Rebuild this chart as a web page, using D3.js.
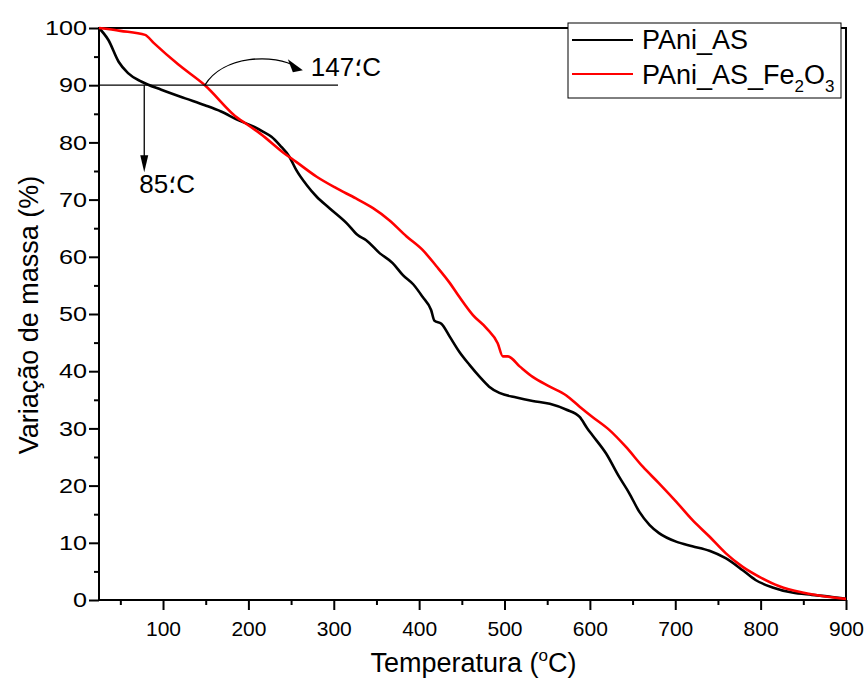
<!DOCTYPE html>
<html>
<head>
<meta charset="utf-8">
<script src="https://cdn.jsdelivr.net/npm/d3@7"></script>
<style>
  html, body { margin: 0; padding: 0; background: #fff; }
  svg text { font-family: "Liberation Sans", Arial, sans-serif; fill: #000; }
</style>
</head>
<body>
<svg id="chart" width="866" height="691"></svg>
<script>
// ---- data ----
const xTicks = [100, 200, 300, 400, 500, 600, 700, 800, 900];
const yTicks = [0, 10, 20, 30, 40, 50, 60, 70, 80, 90, 100];
const seriesNames = ["PAni_AS", "PAni_AS_Fe2O3"];

const tempBlack = [25, 36, 48, 59, 75, 98, 126, 149, 168, 188, 207, 217, 227, 237, 248, 256, 268, 280, 295, 315, 328, 338, 354, 369, 381, 393, 404, 414, 418, 426, 436, 447, 459, 471, 482, 494, 514, 533, 553, 572, 588, 597, 603, 619, 634, 646, 658, 670, 681, 701, 720, 740, 759, 779, 794, 814, 837, 860, 880, 900];
const massBlack = [100, 97.9, 94.1, 92.1, 90.6, 89.2, 87.7, 86.5, 85.4, 83.9, 82.7, 81.9, 81.0, 79.5, 77.5, 75.2, 72.6, 70.5, 68.5, 65.9, 63.8, 62.9, 60.6, 58.9, 56.8, 55.2, 53.0, 50.7, 48.8, 48.3, 46.0, 43.4, 41.1, 39.0, 37.3, 36.2, 35.4, 34.8, 34.3, 33.3, 32.0, 30.0, 28.8, 25.6, 21.6, 18.7, 15.4, 13.1, 11.7, 10.2, 9.4, 8.6, 7.3, 5.2, 3.5, 2.2, 1.3, 0.9, 0.6, 0.2];

const tempRed = [25, 50, 79, 89, 118, 149, 188, 194, 215, 241, 256, 280, 303, 326, 346, 365, 385, 404, 420, 436, 447, 463, 479, 492, 498, 504, 518, 533, 553, 572, 588, 603, 623, 642, 662, 681, 701, 720, 740, 759, 779, 798, 822, 849, 876, 900];
const massRed = [100, 99.5, 98.8, 97.4, 93.6, 90.0, 84.2, 83.6, 81.4, 78.2, 76.6, 74.0, 72.0, 70.2, 68.5, 66.4, 63.6, 61.2, 58.4, 55.4, 53.0, 49.8, 47.5, 44.9, 42.6, 42.6, 40.8, 39.0, 37.3, 35.8, 33.8, 32.0, 29.7, 26.8, 23.3, 20.4, 17.2, 14.0, 11.1, 8.2, 5.8, 4.1, 2.4, 1.3, 0.6, 0.2];

const refLevel = 90;          // horizontal reference line (%)
const refLineEnd = 305;       // °C where the reference line stops
const annoBlackTemp = 78;     // vertical arrow position (°C)
const annoBlackTip = 74.8;    // vertical arrow tip (%)
const annoRedTemp = 149;      // curved arrow start (°C)
const annoLabels = ["147؛C", "85؛C"];

// ---- layout ----
const svg = d3.select("#chart");
const L = 99, R = 846, T = 28, B = 600;
const x = d3.scaleLinear().domain([25, 900]).range([L, R]);
const y = d3.scaleLinear().domain([0, 100]).range([B, T]);

const FONT = "Liberation Sans, Arial, sans-serif";

// axes
const xAxis = d3.axisBottom(x).tickValues(xTicks).tickSize(10).tickPadding(11).tickFormat(d3.format("d"));
const xMinor = d3.axisBottom(x).tickValues(d3.range(50, 900, 100)).tickSize(5).tickFormat("");
const yAxis = d3.axisLeft(y).tickValues(yTicks).tickSize(10).tickPadding(4).tickFormat(d3.format("d"));
const yMinor = d3.axisLeft(y).tickValues(d3.range(5, 100, 10)).tickSize(5).tickFormat("");

function styleAxis(g) {
  g.select(".domain").remove();
  g.selectAll(".tick line").attr("stroke", "#000").attr("stroke-width", 2);
  g.selectAll(".tick text").attr("font-family", FONT).attr("font-size", 21).attr("fill", "#000");
}
svg.append("g").attr("transform", `translate(0,${B})`).call(xAxis).call(styleAxis);
svg.append("g").attr("transform", `translate(0,${B})`).call(xMinor).call(styleAxis);
const gy = svg.append("g").attr("transform", `translate(${L},0)`).call(yAxis).call(styleAxis);
gy.selectAll(".tick text").attr("x", 0).attr("transform", "translate(-12,0) scale(1.2,1)");
svg.append("g").attr("transform", `translate(${L},0)`).call(yMinor).call(styleAxis);

// frame
svg.append("rect").attr("x", L).attr("y", T).attr("width", R - L).attr("height", B - T)
  .attr("fill", "none").attr("stroke", "#000").attr("stroke-width", 2);

// series
const line = d3.line().x(d => x(d[0])).y(d => y(d[1])).curve(d3.curveMonotoneX);
const blackData = d3.zip(tempBlack, massBlack);
const redData = d3.zip(tempRed, massRed);
svg.append("path").datum(blackData).attr("d", line).attr("fill", "none")
  .attr("stroke", "#000").attr("stroke-width", 2.6).attr("stroke-linejoin", "round");
svg.append("path").datum(redData).attr("d", line).attr("fill", "none")
  .attr("stroke", "#ff0000").attr("stroke-width", 2.6).attr("stroke-linejoin", "round");

// annotations
svg.append("line").attr("x1", x(25)).attr("x2", x(refLineEnd)).attr("y1", y(refLevel)).attr("y2", y(refLevel))
  .attr("stroke", "#000").attr("stroke-width", 1.3);

// vertical arrow
const vx = x(annoBlackTemp);
svg.append("line").attr("x1", vx).attr("x2", vx).attr("y1", y(refLevel)).attr("y2", y(annoBlackTip) - 14)
  .attr("stroke", "#000").attr("stroke-width", 1.3);
svg.append("path")
  .attr("d", `M${vx - 4},${y(annoBlackTip) - 17} L${vx + 4},${y(annoBlackTip) - 17} L${vx},${y(annoBlackTip)} Z`)
  .attr("fill", "#000");

// curved arrow
const cx0 = x(annoRedTemp), cy0 = y(refLevel);
const tipX = cx0 + 98, tipY = cy0 - 15;
svg.append("path")
  .attr("d", `M${cx0},${cy0} C${cx0 + 18},${cy0 - 30} ${cx0 + 70},${cy0 - 32} ${tipX - 6},${tipY - 3}`)
  .attr("fill", "none").attr("stroke", "#000").attr("stroke-width", 1.3);
svg.append("path")
  .attr("d", `M${tipX},${tipY} L${tipX - 15},${tipY - 11} L${tipX - 10},${tipY + 2} Z`)
  .attr("fill", "#000");

svg.append("text").attr("x", tipX + 8).attr("y", 76).attr("font-size", 26).text(annoLabels[0]);
svg.append("text").attr("x", vx - 5).attr("y", 193).attr("font-size", 26).text(annoLabels[1]);

// axis titles
const xt = svg.append("text").attr("x", (L + R) / 2 + 1).attr("y", 672).attr("text-anchor", "middle").attr("font-size", 27);
xt.append("tspan").text("Temperatura (");
xt.append("tspan").attr("font-size", 17).attr("dy", -11).text("o");
xt.append("tspan").attr("dy", 11).text("C)");

svg.append("text").attr("transform", `translate(38,${(T + B) / 2 + 1}) rotate(-90)`)
  .attr("text-anchor", "middle").attr("font-size", 27).text("Variação de massa (%)");

// legend
const lg = svg.append("g");
lg.append("rect").attr("x", 568).attr("y", 23).attr("width", 273).attr("height", 75)
  .attr("fill", "#fff").attr("stroke", "#000").attr("stroke-width", 1);
lg.append("line").attr("x1", 572).attr("x2", 633).attr("y1", 40).attr("y2", 40).attr("stroke", "#000").attr("stroke-width", 2);
lg.append("line").attr("x1", 572).attr("x2", 633).attr("y1", 74).attr("y2", 74).attr("stroke", "#ff0000").attr("stroke-width", 2);
lg.append("text").attr("x", 642).attr("y", 49).attr("font-size", 27).text(seriesNames[0]);
const t2 = lg.append("text").attr("x", 642).attr("y", 84).attr("font-size", 27);
t2.append("tspan").text("PAni_AS_Fe");
t2.append("tspan").attr("font-size", 17).attr("dy", 8).text("2");
t2.append("tspan").attr("dy", -8).text("O");
t2.append("tspan").attr("font-size", 17).attr("dy", 8).text("3");
</script>
</body>
</html>
